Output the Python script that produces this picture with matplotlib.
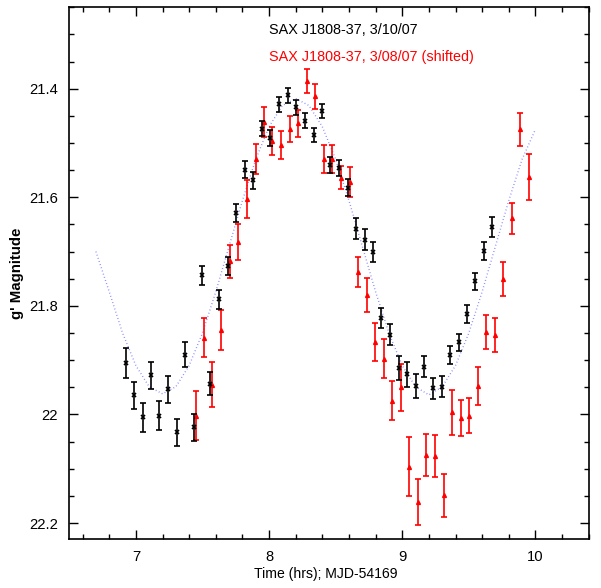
import matplotlib
matplotlib.use("Agg")
import matplotlib.pyplot as plt
from matplotlib.ticker import MultipleLocator, FuncFormatter

# Black series: SAX J1808-37, 3/10/07
t_black = [6.923, 6.985, 7.050, 7.113, 7.175, 7.240, 7.305, 7.368, 7.433, 7.500,
           7.560, 7.625, 7.692, 7.755, 7.818, 7.883, 7.948, 8.010, 8.075, 8.140,
           8.203, 8.270, 8.335, 8.398, 8.460, 8.525, 8.590, 8.653, 8.718, 8.783,
           8.843, 8.908, 8.973, 9.038, 9.103, 9.166, 9.230, 9.296, 9.361, 9.423,
           9.488, 9.550, 9.613, 9.676]
g_black = [21.905, 21.965, 22.005, 21.928, 22.002, 21.954, 22.033, 21.890, 22.024, 21.744,
           21.943, 21.788, 21.727, 21.629, 21.549, 21.569, 21.474, 21.491, 21.429, 21.412,
           21.434, 21.459, 21.486, 21.441, 21.540, 21.546, 21.582, 21.658, 21.678, 21.701,
           21.822, 21.853, 21.915, 21.926, 21.947, 21.912, 21.952, 21.949, 21.890, 21.867,
           21.815, 21.755, 21.699, 21.655]
e_black = [0.027, 0.025, 0.027, 0.025, 0.027, 0.024, 0.025, 0.023, 0.025, 0.018,
           0.021, 0.018, 0.017, 0.016, 0.016, 0.015, 0.014, 0.015, 0.014, 0.014,
           0.014, 0.014, 0.013, 0.013, 0.015, 0.015, 0.015, 0.019, 0.019, 0.018,
           0.019, 0.019, 0.022, 0.023, 0.022, 0.019, 0.020, 0.019, 0.017, 0.016,
           0.017, 0.016, 0.017, 0.019]

# Red series: SAX J1808-37, 3/08/07 (shifted)
t_red = [7.448, 7.513, 7.575, 7.640, 7.705, 7.770, 7.835, 7.900, 7.962, 8.025,
         8.090, 8.155, 8.218, 8.283, 8.348, 8.410, 8.475, 8.540, 8.605, 8.668,
         8.733, 8.798, 8.860, 8.926, 8.988, 9.053, 9.118, 9.180, 9.245, 9.310,
         9.373, 9.438, 9.503, 9.568, 9.630, 9.695, 9.758, 9.823, 9.886, 9.950]
g_red = [22.002, 21.859, 21.945, 21.844, 21.718, 21.682, 21.603, 21.529, 21.461, 21.497,
         21.504, 21.475, 21.464, 21.385, 21.414, 21.529, 21.529, 21.564, 21.572, 21.738,
         21.780, 21.866, 21.897, 21.975, 21.950, 22.096, 22.161, 22.075, 22.077, 22.149,
         21.996, 22.007, 22.002, 21.948, 21.848, 21.854, 21.751, 21.639, 21.475, 21.563]
e_red = [0.045, 0.036, 0.042, 0.037, 0.031, 0.033, 0.035, 0.028, 0.028, 0.026,
         0.026, 0.024, 0.025, 0.022, 0.023, 0.026, 0.026, 0.021, 0.027, 0.028,
         0.032, 0.035, 0.036, 0.036, 0.043, 0.055, 0.043, 0.039, 0.039, 0.040,
         0.041, 0.033, 0.033, 0.035, 0.032, 0.031, 0.031, 0.029, 0.030, 0.042]

# Model curve (blue dotted)
t_model = [6.7, 6.8, 6.9, 7.0, 7.1, 7.2, 7.3, 7.4, 7.5, 7.6, 7.7, 7.8, 7.9, 8.0, 8.1,
           8.2, 8.3, 8.4, 8.5, 8.6, 8.7, 8.8, 8.9, 9.0, 9.1, 9.2, 9.3, 9.4, 9.5, 9.6,
           9.7, 9.8, 9.9, 10.0]
g_model = [21.700, 21.774, 21.850, 21.910, 21.949, 21.962, 21.949, 21.910, 21.850, 21.774,
           21.690, 21.606, 21.530, 21.470, 21.431, 21.418, 21.431, 21.470, 21.530, 21.606,
           21.690, 21.774, 21.850, 21.910, 21.949, 21.964, 21.949, 21.910, 21.850, 21.774,
           21.690, 21.606, 21.530, 21.475]

label_black = "SAX J1808-37, 3/10/07"
label_red = "SAX J1808-37, 3/08/07 (shifted)"

plt.rcParams['font.family'] = ['Liberation Sans', 'DejaVu Sans']

fig = plt.figure(figsize=(6.01, 5.88), dpi=100)
ax = fig.add_axes([0.1153, 0.0828, 0.9795 - 0.1153, 0.9876 - 0.0828])

ax.plot(t_model, g_model, linestyle=(0, (0.6, 1.8)), color='#7f7fff', lw=1.0, zorder=1)

ax.errorbar(t_red, g_red, yerr=e_red, fmt='^', color='#ff0000', ecolor='#ff0000',
            markersize=2.8, elinewidth=1.2, capsize=2.5, capthick=1.2, zorder=2)
ax.errorbar(t_black, g_black, yerr=e_black, fmt='x', color='black', ecolor='black',
            markersize=3.2, markeredgewidth=1.2, elinewidth=1.2, capsize=2.5,
            capthick=1.2, zorder=3)

ax.text(8.0, 21.291, label_black, color='black', fontsize=10.4, va='center', ha='left')
ax.text(8.0, 21.341, label_red, color='#ff0000', fontsize=10.4, va='center', ha='left')

ax.set_xlim(6.5, 10.4)
ax.set_ylim(22.23, 21.25)

ax.xaxis.set_major_locator(MultipleLocator(1))
ax.xaxis.set_minor_locator(MultipleLocator(0.2))
ax.yaxis.set_major_locator(MultipleLocator(0.2))
ax.yaxis.set_minor_locator(MultipleLocator(0.05))
ax.yaxis.set_major_formatter(FuncFormatter(lambda v, p: "%g" % round(v, 3)))

ax.tick_params(which='both', direction='in', top=True, right=True, width=1.0,
               labelsize=10.6, pad=8)
ax.tick_params(which='major', length=6.5)
ax.tick_params(which='minor', length=3.5)
for s in ax.spines.values():
    s.set_linewidth(1.2)

ax.set_xlabel("Time (hrs); MJD-54169", fontsize=10.1, labelpad=3)
ax.set_ylabel("g' Magnitude", fontsize=10.8, fontweight='bold', labelpad=4)
ax.xaxis.set_label_coords(0.493, -0.052)

fig.savefig("out.png", dpi=100)
